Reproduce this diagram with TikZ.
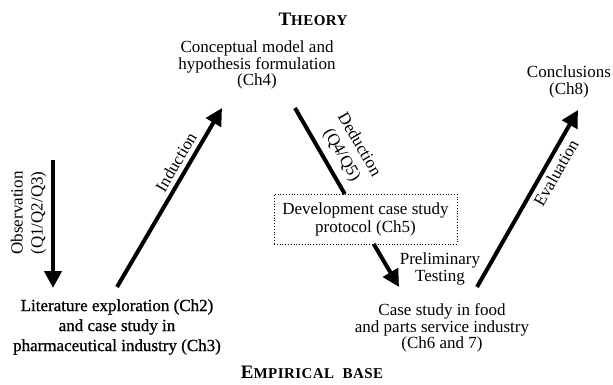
\documentclass[tikz,border=0pt]{standalone}
\usepackage{fontspec}
\setmainfont{Liberation Serif}
\newfontfamily\heavyfont[FakeBold=0.8]{Liberation Serif}
\newfontfamily\headfont[LetterSpace=3]{Liberation Serif Bold}
\usetikzlibrary{arrows.meta}
\newcommand{\bigsc}{\fontsize{19}{20}\selectfont}
\newcommand{\smallsc}{\fontsize{15}{20}\selectfont}
\begin{document}
\begin{tikzpicture}[x=1pt,y=-1pt,
  txt/.style={align=center,inner sep=0pt,font=\fontsize{17}{16.5}\selectfont},
  lbl/.style={align=center,inner sep=0pt,font=\fontsize{17}{20}\selectfont},
  bigarrow/.style={line width=4pt,-{Triangle[length=17pt,width=17pt]}},
  plain/.style={line width=4pt},
  dotbox/.style={draw,dotted,line width=0.8pt,fill=white,minimum width=183pt,minimum height=50pt,align=center,inner sep=0pt,font=\fontsize{17}{18}\selectfont}]
\useasboundingbox (0,0) rectangle (613,385);
\fill[white] (0,0) rectangle (613,385);
% headings
\node[inner sep=0pt,font=\headfont] (theory) at (313,19) {\bigsc T\smallsc HEORY};
\node[inner sep=0pt,font=\headfont] (emp) at (312,372) {\bigsc E\smallsc MPIRICAL\ \ BASE};
% text nodes
\node[txt] (concept) at (257,65) {Conceptual model and\\hypothesis formulation\\(Ch4)};
\node[txt] (concl) at (569,82) {Conclusions\\(Ch8)};
\node[txt,font=\heavyfont\fontsize{17}{20}\selectfont] (lit) at (117,327) {Literature exploration (Ch2)\\and case study in\\pharmaceutical industry (Ch3)};
\node[txt] (case) at (442,328) {Case study in food\\and parts service industry\\(Ch6 and 7)};
\node[txt] (prelim) at (440,269) {Preliminary\\Testing};
\node[dotbox] (box) at (365.5,219) {Development case study\\protocol (Ch5)};
% coordinates
\coordinate (obsT) at (53,160);
\coordinate (obsB) at (53,288);
\coordinate (indB) at (117,287);
\coordinate (indT) at (222,108);
\coordinate (dedT) at (295,108);
\coordinate (dedIn) at (344.8,194);
\coordinate (dedOut) at (373.7,244);
\coordinate (dedB) at (399,287);
\coordinate (evaB) at (477,287);
\coordinate (evaT) at (578,110);
% arrows and labels
\draw[bigarrow] (obsT) -- (obsB);
\node[lbl,rotate=90] (obslbl) at (28.5,213) {Observation\\(Q1/Q2/Q3)};
\draw[bigarrow] (indB) -- (indT);
\node[lbl,rotate=59.6] (indlbl) at (176,162) {Induction};
\draw[plain] (dedT) -- (dedIn);
\draw[bigarrow] (dedOut) -- (dedB);
\node[lbl,rotate=-60] (dedlbl) at (350,150) {Deduction\\(Q4/Q5)};
\draw[bigarrow] (evaB) -- (evaT);
\node[lbl,rotate=60.3] (evalbl) at (556,173) {Evaluation};
\end{tikzpicture}
\end{document}
